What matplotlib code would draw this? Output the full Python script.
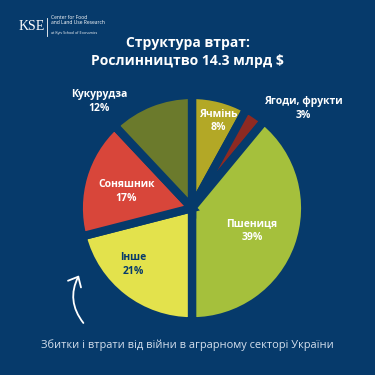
import numpy as np
import matplotlib.pyplot as plt
from matplotlib.patches import FancyArrowPatch

plt.rcParams['font.family'] = ['Open Sans', 'DejaVu Sans']

BG = '#063a6b'

crops = ['Ячмінь', 'Ягоди, фрукти', 'Пшениця', 'Інше', 'Соняшник', 'Кукурудза']
shares = [8, 3, 39, 21, 17, 12]
colors = ['#b3a826', '#8e2a22', '#a5c03c', '#e3e24c', '#d8463a', '#6b7a2c']
text_colors = ['white', 'white', 'white', BG, 'white', 'white']

# label centres in pie units (radius = 1)
label_xy = [(0.23, 0.77), (0.98, 0.88), (0.53, -0.20), (-0.52, -0.50), (-0.58, 0.15), (-0.82, 0.94)]

fig = plt.figure(figsize=(3.75, 3.75), dpi=100, facecolor=BG)

ax = fig.add_axes([0.512 - 0.302, 0.445 - 0.302, 0.604, 0.604])
ax.set_facecolor(BG)
wedges, _ = ax.pie(shares, colors=colors, startangle=90, counterclock=False,
                   wedgeprops=dict(edgecolor=BG, linewidth=6))
ax.set_xlim(-1, 1)
ax.set_ylim(-1, 1)
ax.set_aspect('equal')
ax.axis('off')

for name, val, (lx, ly), tc in zip(crops, shares, label_xy, text_colors):
    ax.text(lx, ly, f'{name}\n{val}%', ha='center', va='center', color=tc,
            fontsize=7.5, fontweight='bold', linespacing=1.35, clip_on=False)

fig.text(0.5, 0.862, 'Структура втрат:\nРослинництво 14.3 млрд $', ha='center', va='center',
         color='white', fontsize=10, fontweight='bold', linespacing=1.35)

fig.text(0.5, 0.08, 'Збитки і втрати від війни в аграрному секторі України', ha='center',
         va='center', color='#d5e0ee', fontsize=7.9)

# logo
fig.text(0.05, 0.928, 'KSE', ha='left', va='center', color='white', fontsize=10,
         family='Liberation Serif')
fig.add_artist(plt.Line2D([0.125, 0.125], [0.905, 0.952], color='white', lw=0.6))
fig.text(0.135, 0.946, 'Center for Food\nand Land Use Research', ha='left', va='center',
         color='white', fontsize=3.6, linespacing=1.1)
fig.text(0.135, 0.911, 'at Kyiv School of Economics', ha='left', va='center',
         color='white', fontsize=2.6)

# curved arrow
fig.add_artist(FancyArrowPatch(
    (0.227, 0.133), (0.214, 0.272), transform=fig.transFigure,
    connectionstyle='arc3,rad=-0.35', arrowstyle='->,head_width=3.5,head_length=4',
    color='white', lw=1.3, mutation_scale=1.5))

fig.savefig('out.png', dpi=100, facecolor=BG)
